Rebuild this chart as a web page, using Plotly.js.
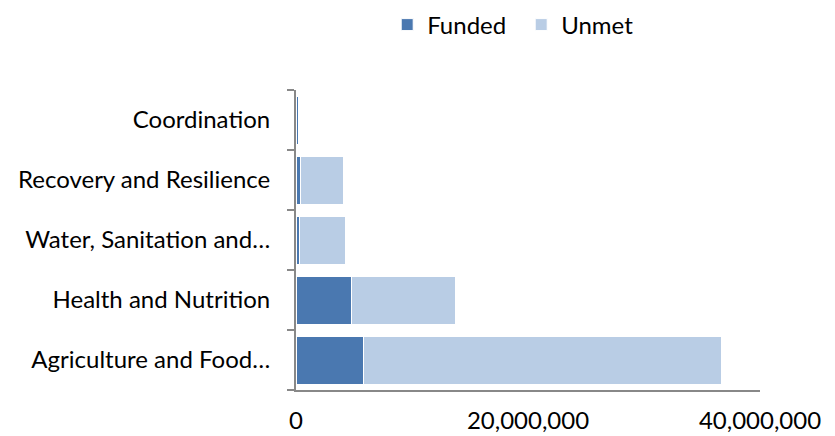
<!DOCTYPE html>
<html>
<head>
<meta charset="utf-8">
<script src="https://cdn.plot.ly/plotly-3.0.1.min.js"></script>
<style>html,body{margin:0;padding:0;background:#fff;}#chart{width:835px;height:436px;}</style>
</head>
<body>
<div id="chart"></div>
<script>
const categories = ["Agriculture and Food…", "Health and Nutrition", "Water, Sanitation and…", "Recovery and Resilience", "Coordination"];
const funded = [5840000, 4760000, 260000, 430000, 200000];
const unmet = [30800000, 9000000, 3980000, 3630000, 0];
const xTicks = [0, 20000000, 40000000];

const traces = [
  {type: "bar", orientation: "h", name: "Funded", y: categories, x: funded,
   marker: {color: "#4A78B0", line: {color: "#ffffff", width: 1}}},
  {type: "bar", orientation: "h", name: "Unmet", y: categories, x: unmet,
   marker: {color: "#B9CDE5", line: {color: "#ffffff", width: 1}}}
];

const layout = {
  width: 835, height: 436,
  margin: {l: 296, r: 75, t: 90, b: 46, autoexpand: false},
  barmode: "stack",
  bargap: 0.2,
  paper_bgcolor: "#fff", plot_bgcolor: "#fff",
  font: {family: "Lato, 'Open Sans', sans-serif", size: 24, color: "#000"},
  showlegend: true,
  legend: {orientation: "h", xref: "container", yref: "container", x: 0.4637, xanchor: "left",
           y: 1 - 25/436, yanchor: "middle",
           font: {size: 24}, itemwidth: 30, entrywidth: 89, traceorder: "normal"},
  xaxis: {range: [0, 40000000], tickvals: xTicks, tickformat: ",d", showgrid: false,
          zeroline: false, showline: true, linecolor: "#888", linewidth: 2, ticks: "",
          ticklabelstandoff: 8, fixedrange: true, automargin: false},
  yaxis: {type: "category", categoryorder: "array", categoryarray: categories,
          showgrid: false, zeroline: false, showline: true, linecolor: "#888", linewidth: 2,
          ticks: "outside", ticklen: 7, tickcolor: "#888", tickwidth: 2, tickson: "boundaries",
          ticklabelstandoff: 19, fixedrange: true, automargin: false}
};

Plotly.newPlot("chart", traces, layout, {displayModeBar: false, responsive: false});
</script>
</body>
</html>
